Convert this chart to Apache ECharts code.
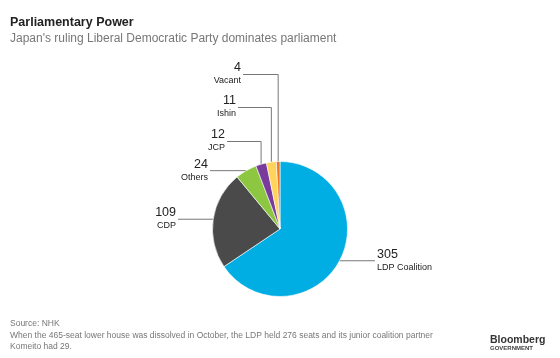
<!DOCTYPE html>
<html>
<head>
<meta charset="utf-8">
<script src="https://cdn.jsdelivr.net/npm/echarts@6/dist/echarts.min.js"></script>
<style>
html,body{margin:0;padding:0;background:#fff;}
#main{width:560px;height:358px;}
</style>
</head>
<body>
<div id="main"></div>
<script>
// ---- data ----
const categories = ['LDP Coalition', 'CDP', 'Others', 'JCP', 'Ishin', 'Vacant'];
const seats = [305, 109, 24, 12, 11, 4];
const colors = ['#00aee3', '#4a4a4a', '#8dc641', '#7a3c9c', '#ffd35c', '#ee7622'];

// label layout (style): elbow level y (null = horizontal from anchor), line end x, align
const labelPos = [
  { lineY: null, endX: 375, align: 'left' },
  { lineY: null, endX: 178, align: 'right' },
  { lineY: null, endX: 210, align: 'right' },
  { lineY: 141.5, endX: 227, align: 'right' },
  { lineY: 107.5, endX: 238, align: 'right' },
  { lineY: 74.5, endX: 243, align: 'right' }
];

const chart = echarts.init(document.getElementById('main'), null, { renderer: 'canvas' });
const FONT = '"Liberation Sans", Arial, Helvetica, sans-serif';

chart.setOption({
  animation: false,
  title: [
    { text: 'Parliamentary Power', left: 10, top: 16, padding: 0,
      textStyle: { fontFamily: FONT, fontSize: 12.5, fontWeight: 'bold', color: '#222' } },
    { text: "Japan's ruling Liberal Democratic Party dominates parliament", left: 10, top: 33, padding: 0,
      textStyle: { fontFamily: FONT, fontSize: 12, fontWeight: 'normal', color: '#777' } },
    { text: 'Source: NHK\nWhen the 465-seat lower house was dissolved in October, the LDP held 276 seats and its junior coalition partner\nKomeito had 29.',
      left: 10, top: 318, padding: 0,
      textStyle: { fontFamily: FONT, fontSize: 8.5, fontWeight: 'normal', color: '#777', lineHeight: 11.5 } },
    { text: '{a|Bloomberg}\n{b|GOVERNMENT}', left: 490, top: 335, padding: 0,
      textStyle: { rich: {
        a: { fontFamily: FONT, fontSize: 10.5, fontWeight: 'bold', color: '#333', lineHeight: 10 },
        b: { fontFamily: FONT, fontSize: 6, fontWeight: 'bold', color: '#444', lineHeight: 7 }
      } } }
  ],
  series: [{
    type: 'pie',
    center: [280, 229],
    radius: 67.5,
    startAngle: 90,
    clockwise: true,
    avoidLabelOverlap: false,
    itemStyle: { borderColor: '#fff', borderWidth: 0.6 },
    label: {
      show: true,
      position: 'outside',
      formatter: function (p) { return '{v|' + p.value + '}\n{n|' + p.name + '}'; },
      rich: {
        v: { fontFamily: FONT, fontSize: 12.5, color: '#222', lineHeight: 13 },
        n: { fontFamily: FONT, fontSize: 9, color: '#222', lineHeight: 13 }
      }
    },
    labelLine: { show: true, length: 10, length2: 10, lineStyle: { color: '#777', width: 1 } },
    labelLayout: function (params) {
      const i = params.dataIndex;
      const cfg = labelPos[i];
      const a = params.labelLinePoints[0];
      const y = cfg.lineY == null ? a[1] : cfg.lineY;
      const pts = cfg.lineY == null ? [[a[0], a[1]], [cfg.endX, a[1]]]
                                     : [[a[0], a[1]], [a[0], y], [cfg.endX, y]];
      return {
        x: cfg.align === 'left' ? cfg.endX + 2 : cfg.endX - 2,
        y: y,
        align: cfg.align,
        verticalAlign: 'middle',
        labelLinePoints: pts
      };
    },
    data: categories.map(function (c, i) {
      return { name: c, value: seats[i], itemStyle: { color: colors[i] } };
    })
  }]
});
</script>
</body>
</html>
